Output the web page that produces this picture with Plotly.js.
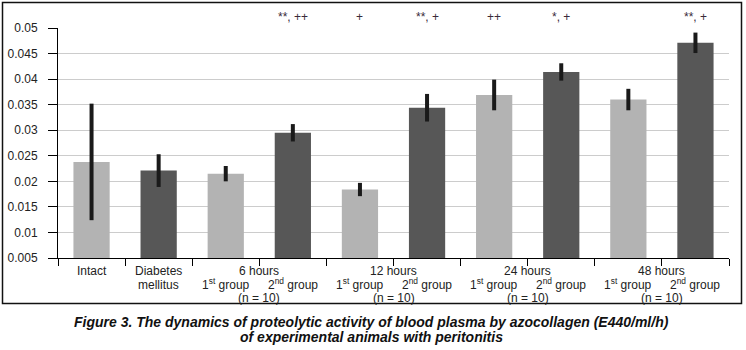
<!DOCTYPE html>
<html>
<head>
<meta charset="utf-8">
<script src="https://cdn.plot.ly/plotly-3.0.1.min.js"></script>
<style>
html,body{margin:0;padding:0;background:#fff;}
#chart{width:746px;height:350px;}
</style>
</head>
<body>
<div id="chart"></div>
<script>
// ---- data ----
const categories = ["Intact","Diabetes mellitus","6h-1","6h-2","12h-1","12h-2","24h-1","24h-2","48h-1","48h-2"];
const values     = [0.0238, 0.0221, 0.0215, 0.0295, 0.0184, 0.0344, 0.0369, 0.0414, 0.0360, 0.0471];
const errors     = [0.0114, 0.0032, 0.0015, 0.0017, 0.0013, 0.0027, 0.0030, 0.0017, 0.0021, 0.0020];
const barColors  = ["#b3b3b3","#575757","#b3b3b3","#575757","#b3b3b3","#575757","#b3b3b3","#575757","#b3b3b3","#575757"];
const significance = ["", "", "", "**, ++", "+", "**, +", "++", "*, +", "", "**, +"];
const singleLabels = [["Intact", 0], ["Diabetes", 1], ["mellitus", 1]];
const periodLabels = ["6 hours", "12 hours", "24 hours", "48 hours"];
const subLabels = ["1<sup>st</sup> group", "2<sup>nd</sup> group"];
const nLabel = "(n = 10)";
const captionLines = [
  "Figure 3. The dynamics of proteolytic activity of blood plasma by azocollagen (E440/ml/h)",
  "of experimental animals with peritonitis"
];

// ---- layout helpers ----
const L = 58, R = 17, T = 28, B = 92;
const plotW = 746 - L - R;
const plotBottom = 350 - B;
const font = "Liberation Sans, Arial, sans-serif";
const pxToPaperX = px => (px - L) / plotW;
const row = [270.5, 284.5, 297.5];
const tf = {family: font, size: 12, color: "#222"};

const annotations = [];
function lab(x, rowIdx, txt, extra) {
  annotations.push(Object.assign({x: x, xref: "x", y: 0, yref: "paper", yanchor: "middle",
    yshift: -(row[rowIdx] - plotBottom), text: txt, showarrow: false, font: tf}, extra || {}));
}
lab(0, 0, singleLabels[0][0]);
lab(1, 0, singleLabels[1][0]);
lab(1, 1, singleLabels[2][0]);
periodLabels.forEach((txt, i) => {
  const c = 2 + i * 2;
  lab(c + 0.5, 0, txt);
  subLabels.forEach((s, k) => lab(c + k, 1, s, {yshift: -(row[1] - plotBottom) + 1}));
  lab(c + 0.5, 2, nLabel);
});
// significance marks
significance.forEach((s, i) => {
  if (!s) return;
  annotations.push({x: categories[i], xref: "x", y: 1, yref: "paper", yanchor: "middle", yshift: 11,
    text: s, showarrow: false, font: {family: font, size: 12, color: "#3a2a3a"}});
});
// caption
[[captionLines[0], 322], [captionLines[1], 337]].forEach(([t, py]) => {
  annotations.push({x: pxToPaperX(371), xref: "paper", xanchor: "center", y: 0, yref: "paper", yanchor: "middle",
    yshift: -(py - plotBottom), text: "<b><i>" + t + "</i></b>", showarrow: false,
    font: {family: font, size: 14, color: "#111"}});
});

const trace = {
  type: "bar",
  x: categories,
  y: values,
  marker: {color: barColors, line: {width: 0}},
  width: 0.54,
  error_y: {type: "data", array: errors, visible: true, color: "#1a1a1a", thickness: 4, width: 0},
  hoverinfo: "none"
};

const layout = {
  width: 746, height: 350,
  margin: {l: L, r: R, t: T, b: B, pad: 0},
  paper_bgcolor: "#fff", plot_bgcolor: "#fff",
  showlegend: false,
  xaxis: {
    type: "category",
    range: [-0.5, 9.5],
    showticklabels: false,
    tickson: "boundaries",
    ticks: "outside", ticklen: 7, tickcolor: "#000", tickwidth: 1,
    showline: true, linecolor: "#000", linewidth: 1,
    showgrid: false, zeroline: false, fixedrange: true
  },
  yaxis: {
    range: [0.005, 0.05],
    tick0: 0.005, dtick: 0.005,
    ticks: "outside", ticklen: 9, tickcolor: "#000", tickwidth: 1,
    showline: true, linecolor: "#000", linewidth: 1,
    showgrid: true, gridcolor: "#cccccc", gridwidth: 1,
    zeroline: false,
    tickfont: tf,
    ticklabelstandoff: 8,
    fixedrange: true
  },
  annotations: annotations,
  shapes: [{
    type: "rect", xref: "paper", yref: "paper",
    x0: pxToPaperX(2.5), x1: pxToPaperX(741.5),
    y0: (plotBottom - 303.5) / 230, y1: (plotBottom - 2.5) / 230,
    line: {color: "#111", width: 1.5}, fillcolor: "rgba(0,0,0,0)", layer: "above"
  }]
};

Plotly.newPlot("chart", [trace], layout, {staticPlot: true, displayModeBar: false});
</script>
</body>
</html>
